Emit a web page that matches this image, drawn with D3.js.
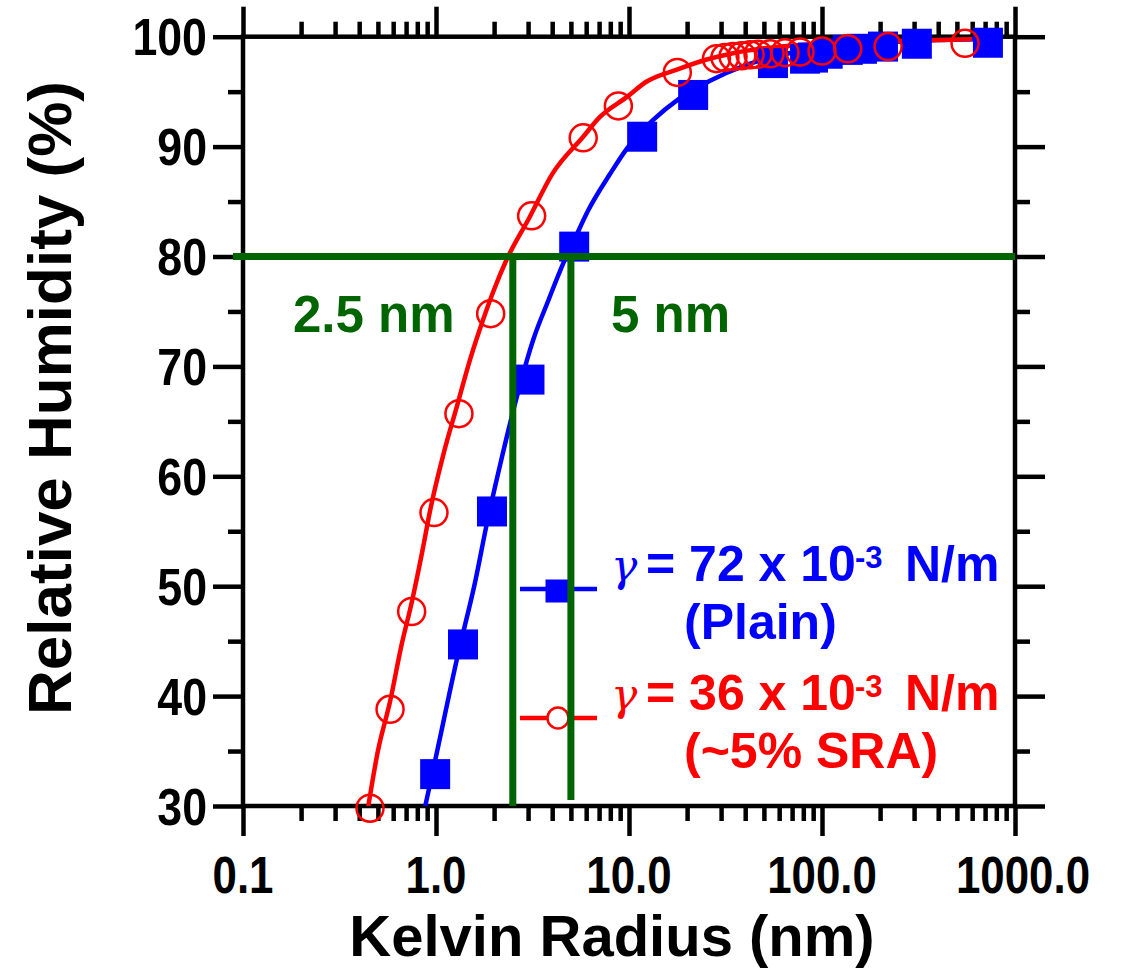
<!DOCTYPE html>
<html><head><meta charset="utf-8">
<script src="https://cdn.jsdelivr.net/npm/d3@7"></script>
<style>body{margin:0;background:#fff}svg{display:block}</style>
</head><body><svg id="c" width="1122" height="971"></svg>
<script>
// ---- data ----
const xTickValues = [0.1, 1, 10, 100, 1000];
const xTickLabels = ["0.1", "1.0", "10.0", "100.0", "1000.0"];
const yTickValues = [30, 40, 50, 60, 70, 80, 90, 100];
const yTickLabels = ["30", "40", "50", "60", "70", "80", "90", "100"];

const plainRadius = [0.99, 1.38, 1.95, 3.05, 5.2, 11.7, 21.5, 55.7, 81.7, 89.8, 107, 136, 161, 207, 310, 724];
const plainRH     = [32.9, 44.7, 56.8, 68.8, 80.9, 90.9, 94.7, 97.6, 98.0, 98.1, 98.45, 98.8, 98.9, 99.1, 99.36, 99.45];

const sraRadius = [0.455, 0.578, 0.748, 0.976, 1.315, 1.92, 3.13, 5.79, 8.81, 17.8, 28.4, 31.4, 34.6, 38.4, 42.4, 46.6, 53.8, 64.3, 76.9, 100, 136, 220, 551];
const sraRH     = [29.8, 38.8, 47.7, 56.7, 65.7, 74.8, 83.7, 90.8, 93.7, 96.75, 98.0, 98.1, 98.2, 98.27, 98.36, 98.4, 98.45, 98.55, 98.6, 98.7, 98.9, 99.1, 99.4];

const plainCurveRadius = [0.88, 1.0, 1.3, 1.6, 1.83, 2.2, 2.62, 3.2, 3.82, 4.57, 5.2, 6.15, 7.97, 9.73, 13.3, 18, 26.3, 40, 60, 100, 200, 400, 720];
const plainCurveRH     = [30, 34.5, 43.8, 50.5, 55.6, 61.8, 67.2, 72.5, 76.0, 79.4, 81.5, 84.2, 87.5, 89.8, 92.4, 94.3, 96.0, 97.4, 98.3, 99.0, 99.45, 99.7, 99.8];

const sraCurveRadius = [0.446, 0.5, 0.578, 0.66, 0.748, 0.85, 0.93, 1.1, 1.28, 1.5, 1.75, 2.0, 2.32, 3.06, 4.0, 5.79, 7.07, 9.73, 12.3, 17.7, 25, 34.6, 50, 77, 150, 253, 600];
const sraCurveRH     = [30, 35, 39.5, 44.5, 48.5, 53.2, 56.8, 62.2, 66.3, 70.6, 74.2, 77, 79.7, 83.6, 87.5, 90.9, 92.7, 94.5, 95.9, 97.0, 97.9, 98.5, 98.95, 99.25, 99.5, 99.6, 99.78];

const refRH = 80;
const refRadii = [2.5, 5];
const refLabels = ["2.5 nm", "5 nm"];

const legendLines = [
  {main: "= 72 x 10", sup: "-3", unit: "N/m", sub: "(Plain)"},
  {main: "= 36 x 10", sup: "-3", unit: "N/m", sub: "(~5% SRA)"}
];

// ---- drawing ----
const BLUE = "#0000ff", RED = "#ff0000", GREEN = "#006400";
const FONT = "'Liberation Sans', Arial, sans-serif";
const svg = d3.select("#c");
const L = 243, R = 1015, T = 36.7, B = 806;
const x = d3.scaleLog().domain([0.1, 1000]).range([L, R]);
const y = d3.scaleLinear().domain([30, 100]).range([B, T]);

const minorX = [];
[0.1, 1, 10, 100].forEach(d => { for (let k = 2; k <= 9; k++) minorX.push(d * k); });
const minorY = d3.range(35, 100, 10);

const AX = 4.5;
function axisStyle(g) {
  g.select(".domain").remove();
  g.selectAll("line").attr("stroke", "#000").attr("stroke-width", AX);
  g.selectAll("text").remove();
}
svg.append("g").attr("transform", `translate(0,${B})`).call(d3.axisBottom(x).tickValues(xTickValues).tickSize(30)).call(axisStyle);
svg.append("g").attr("transform", `translate(0,${B})`).call(d3.axisBottom(x).tickValues(minorX).tickSize(15)).call(axisStyle);
svg.append("g").attr("transform", `translate(0,${T})`).call(d3.axisTop(x).tickValues(xTickValues).tickSize(30)).call(axisStyle);
svg.append("g").attr("transform", `translate(0,${T})`).call(d3.axisTop(x).tickValues(minorX).tickSize(15)).call(axisStyle);
svg.append("g").attr("transform", `translate(${L},0)`).call(d3.axisLeft(y).tickValues(yTickValues).tickSize(30)).call(axisStyle);
svg.append("g").attr("transform", `translate(${L},0)`).call(d3.axisLeft(y).tickValues(minorY).tickSize(15)).call(axisStyle);
svg.append("g").attr("transform", `translate(${R},0)`).call(d3.axisRight(y).tickValues(yTickValues).tickSize(30)).call(axisStyle);
svg.append("g").attr("transform", `translate(${R},0)`).call(d3.axisRight(y).tickValues(minorY).tickSize(15)).call(axisStyle);
svg.append("rect").attr("x", L).attr("y", T).attr("width", R - L).attr("height", B - T)
  .attr("fill", "none").attr("stroke", "#000").attr("stroke-width", AX);

// tick labels (slightly condensed, as in the reference)
const SX = 0.86;
svg.append("g").selectAll("text").data(xTickValues).join("text")
  .attr("transform", d => `translate(${x(d) + (d === 1000 ? 8 : 0)},893) scale(${SX},1)`)
  .attr("text-anchor", "middle")
  .attr("font-family", FONT).attr("font-weight", "bold").attr("font-size", 51)
  .text((d, i) => xTickLabels[i]);
svg.append("g").selectAll("text").data(yTickValues).join("text")
  .attr("transform", d => `translate(207,${y(d)}) scale(${SX},1)`)
  .attr("dy", "0.36em").attr("text-anchor", "end")
  .attr("font-family", FONT).attr("font-weight", "bold").attr("font-size", 52)
  .text((d, i) => yTickLabels[i]);

// axis titles
svg.append("text").attr("x", 612).attr("y", 956).attr("text-anchor", "middle")
  .attr("font-family", FONT).attr("font-weight", "bold").attr("font-size", 58)
  .text("Kelvin Radius (nm)");
svg.append("text").attr("transform", `translate(71,398) rotate(-90)`).attr("text-anchor", "middle")
  .attr("font-family", FONT).attr("font-weight", "bold").attr("font-size", 62)
  .text("Relative Humidity (%)");

// curves
const line = d3.line().x(d => x(d[0])).y(d => y(d[1])).curve(d3.curveMonotoneX);
svg.append("path").attr("d", line(plainCurveRadius.map((r, i) => [r, plainCurveRH[i]])))
  .attr("fill", "none").attr("stroke", BLUE).attr("stroke-width", 4.5);
svg.append("path").attr("d", line(sraCurveRadius.map((r, i) => [r, sraCurveRH[i]])))
  .attr("fill", "none").attr("stroke", RED).attr("stroke-width", 4.5);

// markers
const S = 30;
svg.append("g").selectAll("rect").data(plainRadius).join("rect")
  .attr("x", d => x(d) - S / 2).attr("y", (d, i) => y(plainRH[i]) - S / 2)
  .attr("width", S).attr("height", S).attr("fill", BLUE);
svg.append("g").selectAll("circle").data(sraRadius).join("circle")
  .attr("cx", d => x(d)).attr("cy", (d, i) => y(sraRH[i])).attr("r", 13.5)
  .attr("fill", "none").attr("stroke", RED).attr("stroke-width", 2.5);

// legend
const legY = [589, 718];
const legColors = [BLUE, RED];
legendLines.forEach((lg, i) => {
  const c = legColors[i];
  svg.append("line").attr("x1", 520).attr("x2", 597).attr("y1", legY[i]).attr("y2", legY[i])
    .attr("stroke", c).attr("stroke-width", 4.5);
  if (i === 0) svg.append("rect").attr("x", 557 - 11.5).attr("y", legY[i] + 2 - 11.5).attr("width", 23).attr("height", 23).attr("fill", c);
  else svg.append("circle").attr("cx", 558).attr("cy", legY[i]).attr("r", 10.5).attr("fill", "#fff").attr("stroke", c).attr("stroke-width", 2.5);
  const base = legY[i] - 8;
  svg.append("text").attr("x", 611).attr("y", base).attr("fill", c)
    .attr("font-family", "'DejaVu Serif', 'Liberation Serif', serif").attr("font-style", "italic").attr("font-size", 44).text("γ");
  const t = svg.append("text").attr("y", base).attr("fill", c)
    .attr("font-family", FONT).attr("font-weight", "bold").attr("font-size", 50);
  t.append("tspan").attr("x", 646).text(lg.main);
  t.append("tspan").attr("x", 855).attr("y", base - 13).attr("font-size", 31).text(lg.sup);
  t.append("tspan").attr("x", 905).attr("y", base).text(lg.unit);
  svg.append("text").attr("x", 684).attr("y", base + 58).attr("fill", c)
    .attr("font-family", FONT).attr("font-weight", "bold").attr("font-size", 50).text(lg.sub);
});

// reference lines (on top)
svg.append("line").attr("x1", 233).attr("x2", R).attr("y1", y(refRH)).attr("y2", y(refRH))
  .attr("stroke", GREEN).attr("stroke-width", 7);
const vEnd = [B, 800];
refRadii.forEach((r, i) => {
  svg.append("line").attr("x1", x(r)).attr("x2", x(r)).attr("y1", y(refRH)).attr("y2", vEnd[i])
    .attr("stroke", GREEN).attr("stroke-width", 7);
});
const refLabelX = [293, 611];
refLabels.forEach((s, i) => {
  svg.append("text").attr("x", refLabelX[i]).attr("y", 332).attr("fill", GREEN)
    .attr("font-family", FONT).attr("font-weight", "bold").attr("font-size", 51).text(s);
});
</script></body></html>
